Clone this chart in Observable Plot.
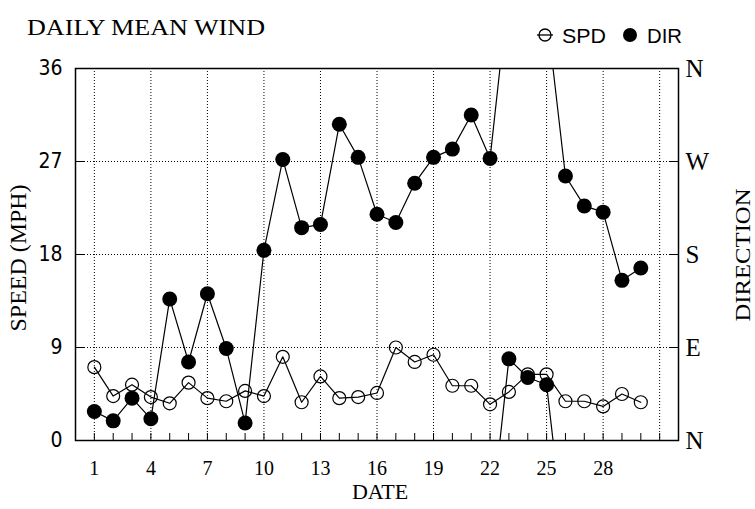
<!DOCTYPE html>
<html><head><meta charset="utf-8">
<script src="https://cdn.jsdelivr.net/npm/d3@7"></script>
<script src="https://cdn.jsdelivr.net/npm/@observablehq/plot@0.6"></script>
<style>
body{margin:0;background:#fff;}
#wrap{position:relative;width:755px;height:509px;overflow:hidden;background:#fff;}
#overlay{position:absolute;left:0;top:0;pointer-events:none;}
</style></head><body>
<div id="wrap"></div>
<script>
// ---- data ----
const days = [1,2,3,4,5,6,7,8,9,10,11,12,13,14,15,16,17,18,19,20,21,22,23,24,25,26,27,28,29,30];
const speed = [7.1,4.3,5.4,4.2,3.6,5.6,4.1,3.8,4.8,4.3,8.1,3.7,6.2,4.1,4.2,4.6,9.0,7.6,8.3,5.3,5.3,3.5,4.7,6.4,6.4,3.8,3.8,3.3,4.5,3.7];
const direction = [28,19,41,21,137,76,142,89,17,184,272,206,209,306,274,219,211,249,274,282,315,273,79,61,54,256,227,221,155,167]; // degrees
const gridDays = [1,4,7,10,13,16,19,22,25,28,31];
const labelDays = [1,4,7,10,13,16,19,22,25,28];
const minorDays = [1,2,3,4,5,6,7,8,9,10,11,12,13,14,15,16,17,18,19,20,21,22,23,24,25,26,27,28,29,30,31];
const speedTicks = [0,9,18,27,36];
const compass = ["N","E","S","W","N"];

// ---- tables ----
const spdRows = days.map((d,i)=>({day:d, v:speed[i]}));
const dirRows = days.map((d,i)=>({day:d, v:direction[i]/10}));
// direction path, wrapping through north when the jump exceeds 180 degrees
const dirPath = [];
let seg = 0;
dirRows.forEach((r,i)=>{
  if (i>0){
    const p = dirRows[i-1].v, c = r.v, d0 = dirRows[i-1].day;
    if (c - p > 18){
      const t = p/(p + 36 - c);
      dirPath.push({x:d0+t, y:0, seg}); seg++; dirPath.push({x:d0+t, y:36, seg});
    } else if (p - c > 18){
      const t = (36-p)/((36-p)+c);
      dirPath.push({x:d0+t, y:36, seg}); seg++; dirPath.push({x:d0+t, y:0, seg});
    }
  }
  dirPath.push({x:r.day, y:r.v, seg});
});

const serif = "'Liberation Serif','Times New Roman',serif";
const narrow = "'Liberation Sans Narrow','DejaVu Sans Condensed','Liberation Sans',sans-serif";

const chart = Plot.plot({
  width:755, height:509,
  marginTop:68, marginBottom:69, marginLeft:75, marginRight:77,
  x:{domain:[0,32]},
  y:{domain:[0,36]},
  style:{background:"white", color:"black", fontFamily:serif, fontSize:"20px", overflow:"visible"},
  marks:[
    Plot.ruleX(gridDays, {x:d=>d, stroke:"black", strokeWidth:1, strokeDasharray:"1,2"}),
    Plot.ruleY([9,18,27], {y:d=>d, stroke:"black", strokeWidth:1, strokeDasharray:"1,2"}),
    Plot.line(spdRows, {x:"day", y:"v", stroke:"black", strokeWidth:1.2}),
    Plot.line(dirPath, {x:"x", y:"y", z:"seg", stroke:"black", strokeWidth:1.2, clip:true}),
    Plot.dot(spdRows, {x:"day", y:"v", r:6.5, stroke:"black", strokeWidth:1.2, fill:"none"}),
    Plot.dot(dirRows, {x:"day", y:"v", r:7.5, fill:"black", stroke:"none"}),
    Plot.frame({stroke:"black", strokeWidth:1.5}),
    Plot.axisX(minorDays, {tickSize:-7, tickFormat:()=>"", label:null}),
    Plot.axisX(labelDays, {tickSize:0, tickPadding:20, label:null, fontSize:20, fontFamily:serif}),
    Plot.axisY([9,18,27], {anchor:"left", tickSize:-9, tickFormat:()=>"", label:null}),
    Plot.axisY(speedTicks, {anchor:"left", tickSize:0, tickPadding:13, label:null, fontSize:21, fontFamily:narrow}),
    Plot.axisY([9,18,27], {anchor:"right", tickSize:-9, tickFormat:()=>"", label:null}),
    Plot.axisY(speedTicks, {anchor:"right", tickSize:0, tickPadding:7, label:null, fontSize:25, fontFamily:serif,
      tickFormat:d=>compass[speedTicks.indexOf(d)]})
  ]
});
document.getElementById("wrap").appendChild(chart);

// ---- titles & legend ----
const NS = "http://www.w3.org/2000/svg";
const ov = document.createElementNS(NS, "svg");
ov.setAttribute("id","overlay"); ov.setAttribute("width",755); ov.setAttribute("height",509);
ov.innerHTML = `
  <text x="27" y="34.5" font-family="${serif}" font-size="24" textLength="238" lengthAdjust="spacingAndGlyphs">DAILY MEAN WIND</text>
  <circle cx="545" cy="35" r="6" fill="none" stroke="black" stroke-width="1.3"/>
  <line x1="537" x2="553" y1="35" y2="35" stroke="black" stroke-width="1.3"/>
  <text x="562" y="43" font-family="'Liberation Sans',Arial,sans-serif" font-size="20" textLength="44" lengthAdjust="spacingAndGlyphs">SPD</text>
  <circle cx="630" cy="35" r="7" fill="black"/>
  <text x="647" y="43" font-family="'Liberation Sans',Arial,sans-serif" font-size="20" textLength="35" lengthAdjust="spacingAndGlyphs">DIR</text>
  <text transform="translate(26,258) rotate(-90)" text-anchor="middle" font-family="${serif}" font-size="23" textLength="147" lengthAdjust="spacingAndGlyphs">SPEED (MPH)</text>
  <text transform="translate(750,255) rotate(-90)" text-anchor="middle" font-family="${serif}" font-size="20" textLength="133" lengthAdjust="spacingAndGlyphs">DIRECTION</text>
  <text x="380" y="499" text-anchor="middle" font-family="${serif}" font-size="22">DATE</text>
`;
document.getElementById("wrap").appendChild(ov);
</script>
</body></html>
